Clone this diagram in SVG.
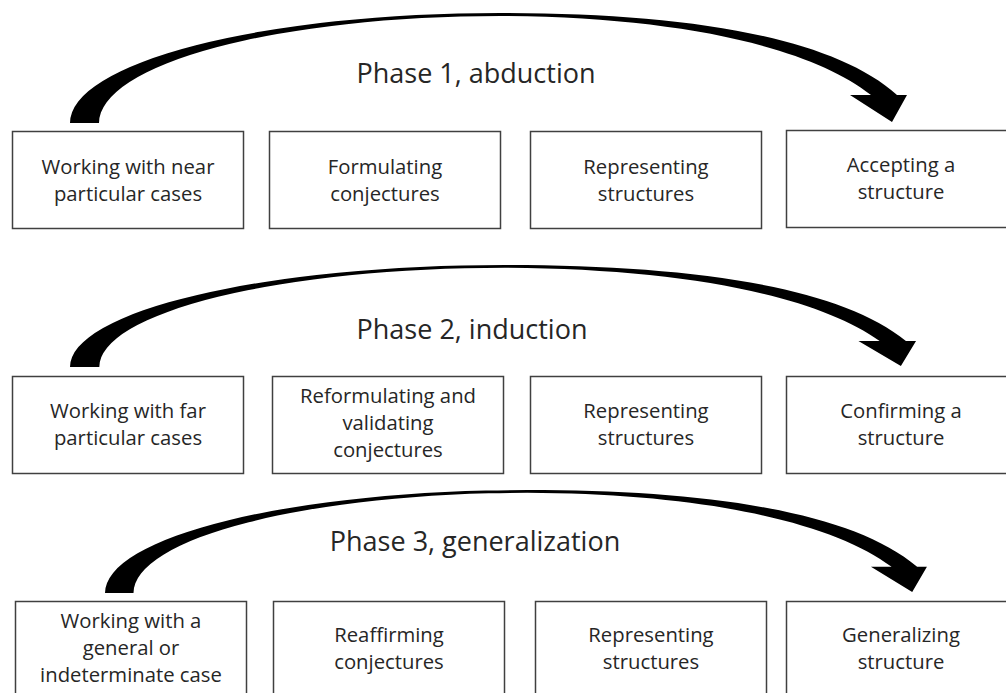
<svg xmlns="http://www.w3.org/2000/svg" xmlns:xlink="http://www.w3.org/1999/xlink" width="1006" height="693" viewBox="0 0 1006 693">
  <style>
    .box { fill: #ffffff; stroke: #404040; stroke-width: 1.5; }
    .lbl { font-family: "Open Sans", "Liberation Sans", sans-serif; font-size: 20.3px; fill: #262626; text-anchor: middle; }
    .phase { font-family: "Open Sans", "Liberation Sans", sans-serif; font-size: 27px; fill: #262626; text-anchor: middle; }
    .arrow { fill: #000000; stroke: none; }
  </style>
  <defs>
    <path id="curvedArrow" class="arrow" d="M 70,123 A 430 110 0 0 1 500,13 C 680,13 830,35 897,95 L 907,95 L 892,122 L 850,95 L 871,95 C 810,47 680,17 500,16 A 401 107 0 0 0 99,123 Z"/>
  </defs>
  <rect width="1006" height="693" fill="#ffffff"/>

  <g id="connectors">
    <use xlink:href="#curvedArrow" href="#curvedArrow"/>
    <use xlink:href="#curvedArrow" href="#curvedArrow" transform="translate(70,367) scale(1.0108,0.927) translate(-70,-123)"/>
    <use xlink:href="#curvedArrow" href="#curvedArrow" transform="translate(105,593) scale(0.982,0.936) translate(-70,-123)"/>
  </g>

  <g id="phase1-label"><text class="phase" x="476" y="83">Phase 1, abduction</text></g>
  <g id="phase2-label"><text class="phase" x="472" y="339">Phase 2, induction</text></g>
  <g id="phase3-label"><text class="phase" x="475" y="551">Phase 3, generalization</text></g>

  <g id="r1n1"><rect class="box" x="12.5" y="131.5" width="231" height="97"/>
    <text class="lbl" x="128" y="174">Working with near</text><text class="lbl" x="128" y="201">particular cases</text></g>
  <g id="r1n2"><rect class="box" x="269.5" y="131.5" width="231" height="97"/>
    <text class="lbl" x="385" y="174">Formulating</text><text class="lbl" x="385" y="201">conjectures</text></g>
  <g id="r1n3"><rect class="box" x="530.5" y="131.5" width="231" height="97"/>
    <text class="lbl" x="646" y="174">Representing</text><text class="lbl" x="646" y="201">structures</text></g>
  <g id="r1n4"><rect class="box" x="786.5" y="130.5" width="231" height="97"/>
    <text class="lbl" x="901" y="172">Accepting a</text><text class="lbl" x="901" y="199">structure</text></g>

  <g id="r2n1"><rect class="box" x="12.5" y="376.5" width="231" height="97"/>
    <text class="lbl" x="128" y="418">Working with far</text><text class="lbl" x="128" y="445">particular cases</text></g>
  <g id="r2n2"><rect class="box" x="272.5" y="376.5" width="231" height="97"/>
    <text class="lbl" x="388" y="403">Reformulating and</text><text class="lbl" x="388" y="430">validating</text><text class="lbl" x="388" y="457">conjectures</text></g>
  <g id="r2n3"><rect class="box" x="530.5" y="376.5" width="231" height="97"/>
    <text class="lbl" x="646" y="418">Representing</text><text class="lbl" x="646" y="445">structures</text></g>
  <g id="r2n4"><rect class="box" x="786.5" y="376.5" width="231" height="97"/>
    <text class="lbl" x="901" y="418">Confirming a</text><text class="lbl" x="901" y="445">structure</text></g>

  <g id="r3n1"><rect class="box" x="15.5" y="601.5" width="231" height="97"/>
    <text class="lbl" x="131" y="628">Working with a</text><text class="lbl" x="131" y="655">general or</text><text class="lbl" x="131" y="682">indeterminate case</text></g>
  <g id="r3n2"><rect class="box" x="273.5" y="601.5" width="231" height="97"/>
    <text class="lbl" x="389" y="642">Reaffirming</text><text class="lbl" x="389" y="669">conjectures</text></g>
  <g id="r3n3"><rect class="box" x="535.5" y="601.5" width="231" height="97"/>
    <text class="lbl" x="651" y="642">Representing</text><text class="lbl" x="651" y="669">structures</text></g>
  <g id="r3n4"><rect class="box" x="786.5" y="601.5" width="231" height="97"/>
    <text class="lbl" x="901" y="642">Generalizing</text><text class="lbl" x="901" y="669">structure</text></g>
</svg>
